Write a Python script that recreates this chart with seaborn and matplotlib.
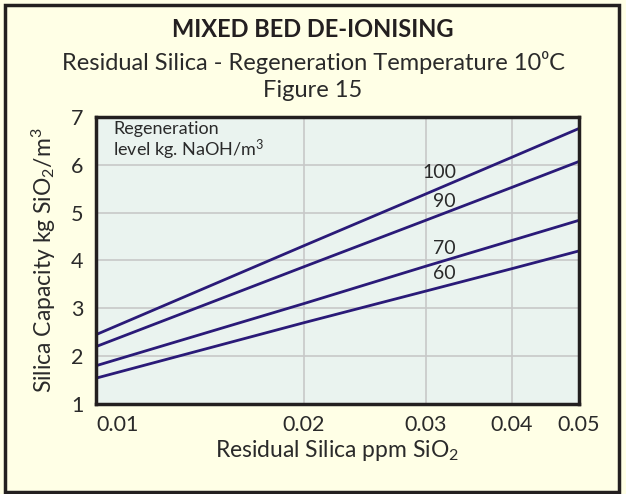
import matplotlib
matplotlib.use("Agg")
import matplotlib.pyplot as plt
import seaborn as sns
import pandas as pd
from matplotlib.patches import Rectangle
from matplotlib.ticker import FixedLocator, FixedFormatter, NullLocator

# ---- data ----
residual_silica = [0.01, 0.02, 0.03, 0.04, 0.05]
cap_100 = [2.45, 4.31, 5.39, 6.16, 6.76]
cap_90 = [2.20, 3.87, 4.84, 5.53, 6.07]
cap_70 = [1.80, 3.10, 3.88, 4.42, 4.84]
cap_60 = [1.54, 2.70, 3.36, 3.83, 4.20]
levels = ["100", "90", "70", "60"]
label_pos_x = [0.0332, 0.0332, 0.0332, 0.0332]
label_pos_y = [5.83, 5.24, 4.25, 3.72]
x_ticks = [0.01, 0.02, 0.03, 0.04, 0.05]
x_tick_labels = ["0.01", "0.02", "0.03", "0.04", "0.05"]
y_ticks = [1, 2, 3, 4, 5, 6, 7]

rows = []
for lvl, vals in zip(levels, [cap_100, cap_90, cap_70, cap_60]):
    for x, v in zip(residual_silica, vals):
        rows.append({"silica": x, "capacity": v, "level": lvl})
df = pd.DataFrame(rows)

sns.set_theme(style="white")
plt.rcParams["font.family"] = ["Lato", "DejaVu Sans"]
plt.rcParams["mathtext.default"] = "regular"

BG = "#FFFFE6"
AX_BG = "#EAF3EF"
LINE = "#2A1A78"
DARK = "#231F20"
GRID = "#C8C8C8"
TXT = "#2a2a2a"

fig = plt.figure(figsize=(6.26, 4.94), dpi=100, facecolor=BG)
ax = fig.add_axes([96 / 626, 1 - 404 / 494, (579 - 96) / 626, (404 - 117) / 494])
ax.set_facecolor(AX_BG)

sns.lineplot(data=df, x="silica", y="capacity", hue="level", units="level",
             estimator=None, palette={l: LINE for l in levels}, linewidth=2.0,
             legend=False, ax=ax)

ax.set_xscale("log")
ax.set_xlim(0.01, 0.05)
ax.set_ylim(1, 7)
ax.xaxis.set_major_locator(FixedLocator(x_ticks))
ax.xaxis.set_major_formatter(FixedFormatter(x_tick_labels))
ax.xaxis.set_minor_locator(NullLocator())
ax.set_yticks(y_ticks)
ax.set_yticklabels([str(v) for v in y_ticks])
ax.grid(True, color=GRID, linewidth=1.2)
ax.set_axisbelow(True)
ax.tick_params(axis="both", length=0, labelsize=15.5, colors=TXT)
ax.tick_params(axis="x", pad=8)
ax.tick_params(axis="y", pad=9)
ax.get_xticklabels()[0].set_horizontalalignment("left")
for s in ax.spines.values():
    s.set_color(DARK)
    s.set_linewidth(2.5)

ax.set_xlabel("Residual Silica ppm SiO$_2$", fontsize=16.5, color=TXT, labelpad=2)
ax.set_ylabel("Silica Capacity kg SiO$_2$/m$^3$", fontsize=16.5, color=TXT, labelpad=9)

for lvl, lx, ly in zip(levels, label_pos_x, label_pos_y):
    ax.text(lx, ly, lvl, ha="right", va="center", fontsize=14, color=TXT)

ax.text(0.035, 0.985, "Regeneration\nlevel kg. NaOH/m$^3$", transform=ax.transAxes,
        ha="left", va="top", fontsize=13, color=TXT, linespacing=1.05)

fig.text(0.5, 0.94, "MIXED BED DE-IONISING", ha="center", va="center",
         fontsize=17, fontweight="bold", color=DARK)
fig.text(0.5, 0.874, "Residual Silica - Regeneration Temperature 10\u2070C",
         ha="center", va="center", fontsize=17, color=TXT)
fig.text(0.5, 0.816, "Figure 15", ha="center", va="center", fontsize=17, color=TXT)

fig.patches.append(Rectangle((5 / 626, 2 / 494), 614 / 626, 487 / 494,
                             transform=fig.transFigure, fill=False,
                             edgecolor=DARK, linewidth=2.5))

fig.savefig("out.png", dpi=100, facecolor=BG)
